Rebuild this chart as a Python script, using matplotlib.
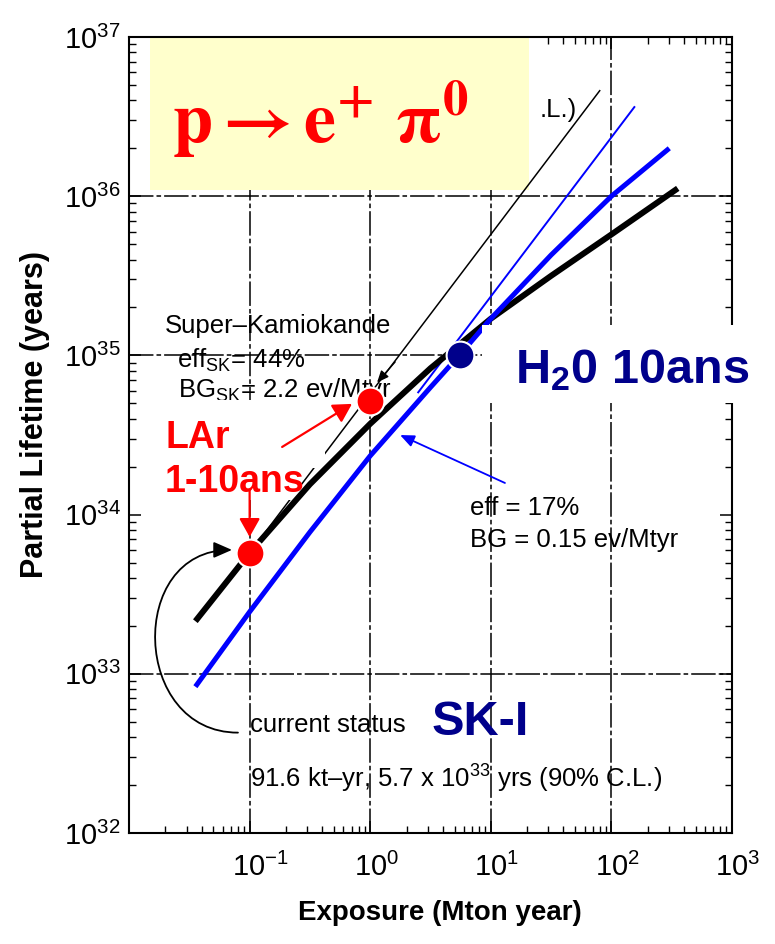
import matplotlib
matplotlib.use("Agg")
import matplotlib.pyplot as plt
from matplotlib import font_manager
from matplotlib.patches import Rectangle, FancyArrowPatch
from matplotlib.path import Path
from matplotlib.transforms import ScaledTranslation

names = {f.name for f in font_manager.fontManager.ttflist}
NARROW = 'Liberation Sans Narrow' if 'Liberation Sans Narrow' in names else 'Liberation Sans'
NSIZE = 22 if NARROW == 'Liberation Sans Narrow' else 18.5

plt.rcParams['font.family'] = ['Liberation Sans', 'DejaVu Sans']
plt.rcParams['mathtext.fontset'] = 'custom'
plt.rcParams['mathtext.rm'] = NARROW
plt.rcParams['mathtext.it'] = NARROW + ':italic'
plt.rcParams['mathtext.bf'] = 'Liberation Sans:bold'
plt.rcParams['mathtext.sf'] = 'Liberation Sans'

# sensitivity curves (exposure in Mton yr, lifetime in years)
sk_exp = [0.0355, 0.1, 0.316, 1, 3.16, 10, 31.6, 100, 355]
sk_life = [2.14e33, 5.75e33, 1.55e34, 3.72e34, 8.3e34, 1.70e35, 3.16e35, 5.75e35, 1.12e36]
sk_free_exp = [0.1, 80]
sk_free_life = [5.75e33, 4.6e36]

wc_exp = [0.0355, 0.1, 0.316, 1, 3.16, 5.6, 10, 31.6, 100, 302]
wc_life = [8.3e32, 2.45e33, 7.76e33, 2.34e34, 6.3e34, 1.02e35, 1.70e35, 4.27e35, 1.0e36, 2.0e36]
wc_free_exp = [2.5, 155]
wc_free_life = [5.86e34, 3.63e36]

lar_exp = [0.1, 1.0]
lar_life = [5.7e33, 5.2e34]
h2o_exp = [5.6]
h2o_life = [1.0e35]

grid_x = [0.1, 1, 10, 100]
grid_y = [1e33, 1e35, 1e36]
xticks = [1e-2, 1e-1, 1e0, 1e1, 1e2, 1e3]
xlabels = ['', r'$10^{-1}$', r'$10^{0}$', r'$10^{1}$', r'$10^{2}$', r'$10^{3}$']
yticks = [1e32, 1e33, 1e34, 1e35, 1e36, 1e37]
ylabels = [r'$10^{32}$', r'$10^{33}$', r'$10^{34}$', r'$10^{35}$', r'$10^{36}$', r'$10^{37}$']

fig = plt.figure(figsize=(7.75, 9.44), dpi=100)
ax = fig.add_axes([0.1665, 0.1176, 0.778, 0.8432])
ax.set_xscale('log')
ax.set_yscale('log')
ax.set_xlim(1e-2, 1e3)
ax.set_ylim(1e32, 1e37)

gridstyle = dict(color='black', lw=1.1, dashes=(16, 2, 3, 2), zorder=1)
for gx in grid_x:
    ax.axvline(gx, **gridstyle)
for gy in grid_y:
    ax.axhline(gy, **gridstyle)

ax.plot(sk_exp, sk_life, color='black', lw=4.3, zorder=4, solid_capstyle='butt')
ax.plot(sk_free_exp, sk_free_life, color='black', lw=1.1, zorder=3)
ax.plot(wc_exp, wc_life, color='#0000ff', lw=3.6, zorder=4, solid_capstyle='butt')
ax.plot(wc_free_exp, wc_free_life, color='#0000ff', lw=1.4, zorder=3)

ax.plot(lar_exp, lar_life, 'o', ms=20, color='#ff0000', mec='white', mew=1.5, zorder=6, ls='none')
ax.plot(h2o_exp, h2o_life, 'o', ms=20, color='#00008b', mec='white', mew=1.5, zorder=6, ls='none')

# spines / ticks
for s in ax.spines.values():
    s.set_linewidth(1.5)
ax.set_xticks(xticks)
ax.set_xticklabels(xlabels)
ax.set_yticks(yticks)
ax.set_yticklabels(ylabels)
ax.tick_params(which='major', direction='in', length=8.6, width=1.1, top=True, right=True,
               labelsize=21)
ax.tick_params(which='minor', direction='in', length=5, width=1.0, top=True, right=True)
ax.tick_params(axis='y', pad=6)
ax.tick_params(axis='x', pad=14)
ax.xaxis.set_minor_formatter(plt.NullFormatter())
ax.yaxis.set_minor_formatter(plt.NullFormatter())
for lab in ax.get_xticklabels():
    dx = 11 if '-' in lab.get_text() else 6
    lab.set_transform(lab.get_transform() + ScaledTranslation(dx / 100, 0, fig.dpi_scale_trans))

ax.set_xlabel('Exposure (Mton year)', fontsize=20, fontweight='bold')
ax.xaxis.set_label_coords(0.516, -0.084)
ax.set_ylabel('Partial Lifetime (years)', fontsize=22, fontweight='bold')
ax.yaxis.set_label_coords(-0.131, 0.526)

T = ax.transAxes
narrow = dict(family=NARROW, fontsize=NSIZE, color='black', transform=T, va='baseline')

# end of a caption hidden behind the yellow box
ax.text(0.743, 0.8995, '.L.)', ha='right', zorder=1.5, **narrow)
ax.add_patch(Rectangle((0.0348, 0.8078), 0.6285, 0.191, transform=T, facecolor='#ffffcc',
                       edgecolor='none', zorder=2))
ax.text(0.0713, 0.8668, r'$\mathbf{p \rightarrow e^{+}\ \pi^{0}}$', math_fontfamily='stix',
        color='red', fontsize=52, transform=T, va='baseline', zorder=7)

ax.text(0.0597, 0.628, 'Super–Kamiokande', fontsize=18.5, transform=T, va='baseline', zorder=2)
ax.text(0.0796, 0.585, r'eff$_\mathsf{SK}$= 44%', fontsize=18.5, transform=T, va='baseline', zorder=2)
ax.text(0.0813, 0.548, r'BG$_\mathsf{SK}$= 2.2 ev/Mtyr', fontsize=18.5, transform=T, va='baseline', zorder=2)

# white masks
ax.add_patch(Rectangle((0.0232, 0.4585), 0.302, 0.0854, transform=T, facecolor='white',
                       edgecolor='none', zorder=3.5))
ax.add_patch(Rectangle((0.0431, 0.4183), 0.2405, 0.0402, transform=T, facecolor='white',
                       edgecolor='none', zorder=3.5))
ax.add_patch(Rectangle((0.5854, 0.5402), 0.4444, 0.098, transform=T, facecolor='white',
                       edgecolor='none', zorder=4.5, clip_on=False))

ax.text(0.0597, 0.484, 'LAr', fontsize=27, fontweight='bold', color='#ff0000', transform=T,
        va='baseline', zorder=7)
ax.text(0.0597, 0.428, '1-10ans', fontsize=27, fontweight='bold', color='#ff0000', transform=T,
        va='baseline', zorder=7)
ax.text(0.640, 0.565, r'H$_\mathbf{2}$0 10ans', fontsize=35, fontweight='bold', color='#00008b',
        transform=T, va='baseline', zorder=7)
ax.text(0.5025, 0.123, 'SK-I', fontsize=35, fontweight='bold', color='#00008b',
        transform=T, va='baseline', zorder=7)

ax.text(0.5655, 0.3995, 'eff = 17%', zorder=5, **narrow)
ax.text(0.5655, 0.359, 'BG = 0.15 ev/Mtyr', zorder=5, **narrow)
ax.text(0.2007, 0.127, 'current status', zorder=5, **narrow)
ax.text(0.2007, 0.0565, r'91.6 kt–yr, 5.7 x 10$^{33}$ yrs (90% C.L.)', zorder=5, **narrow)

# arrows
red_arrow = dict(arrowstyle='-|>,head_length=0.8,head_width=0.45', color='#ff0000', lw=1.6,
                 mutation_scale=14, shrinkA=0, shrinkB=0)
ax.annotate('', xy=(0.706, 4.96e34), xytext=(0.186, 2.66e34), arrowprops=red_arrow, zorder=7)
ax.annotate('', xy=(0.1, 7.24e33), xytext=(0.1, 1.43e34), arrowprops=red_arrow, zorder=7)
ax.annotate('', xy=(1.77, 3.16e34), xytext=(13.1, 1.58e34),
            arrowprops=dict(arrowstyle='-|>,head_length=0.7,head_width=0.3', color='#0000ff',
                            lw=1.3, mutation_scale=12, shrinkA=0, shrinkB=0), zorder=5)
ax.annotate('', xy=(1.14, 6.76e34), xytext=(1.61, 9.1e34),
            arrowprops=dict(arrowstyle='-|>,head_length=0.7,head_width=0.3', color='black',
                            lw=1.0, mutation_scale=10, shrinkA=0, shrinkB=0), zorder=3)
curve = Path([(0.080, 4.27e32), (0.0105, 4.27e32), (0.0095, 6.0e33), (0.0714, 6.0e33)],
             [Path.MOVETO, Path.CURVE4, Path.CURVE4, Path.CURVE4])
ax.add_patch(FancyArrowPatch(path=curve, arrowstyle='-|>,head_length=0.8,head_width=0.35',
                             mutation_scale=14, color='black', lw=1.3, transform=ax.transData,
                             zorder=5))

fig.savefig('out.png', dpi=100)
